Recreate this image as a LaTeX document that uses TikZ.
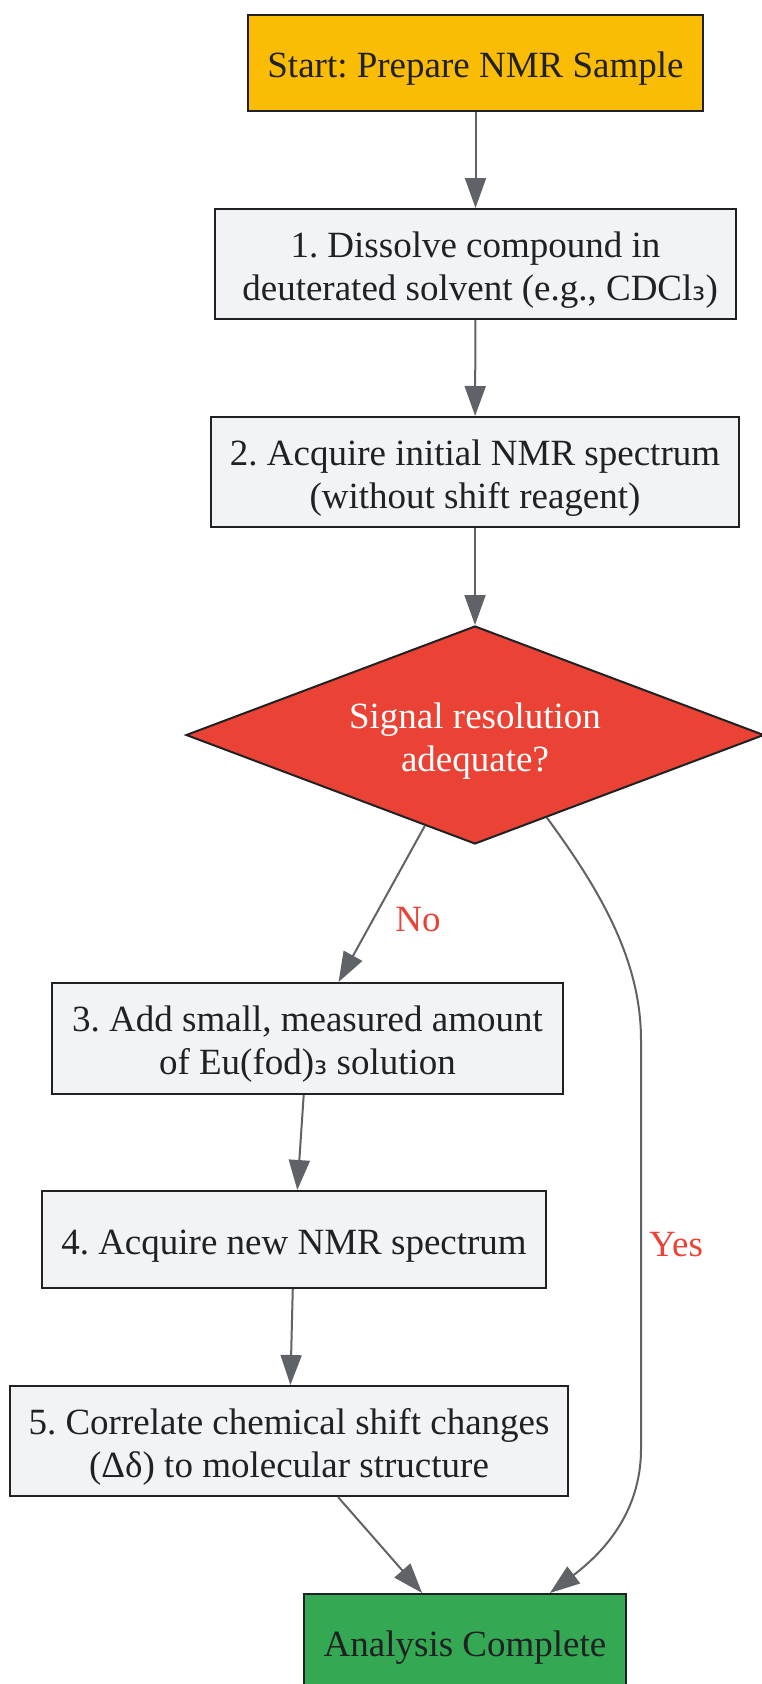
\documentclass[tikz,border=0pt]{standalone}
\usepackage{fontspec}
\setmainfont{Liberation Serif}
\newfontfamily\dvsans{DejaVu Sans}
\usetikzlibrary{shapes.geometric,arrows.meta,calc}
\frenchspacing
\definecolor{gyellow}{HTML}{FBBC05}
\definecolor{gred}{HTML}{EA4335}
\definecolor{ggreen}{HTML}{34A853}
\definecolor{boxfill}{HTML}{F1F3F4}
\definecolor{edgecol}{HTML}{5F6368}
\definecolor{textcol}{HTML}{202124}
\newcommand{\subthree}{{\dvsans\fontsize{33}{43}\selectfont ₃}}
\newcommand{\tx}[1]{\raisebox{-6pt}[\height][\depth]{\begin{tabular}{@{}c@{}}#1\end{tabular}}}
\begin{document}
\begin{tikzpicture}[x=1pt,y=-1pt,
  box/.style={draw=textcol, line width=2pt, fill=boxfill, text=textcol, align=center,
    inner sep=0pt, font=\fontsize{37}{43}\selectfont},
  decision/.style={shape=diamond, draw=textcol, line width=2pt, fill=gred, text=white,
    align=center, inner sep=0pt, aspect=2.65, font=\fontsize{37}{43}\selectfont},
  edge/.style={draw=edgecol, line width=2pt, -{Triangle[length=30pt,width=21pt]}},
  lbl/.style={text=gred, font=\fontsize{37}{43}\selectfont, inner sep=0pt}]
\useasboundingbox (0,0) rectangle (762,1684);
\node[box, fill=gyellow, minimum width=455pt, minimum height=96pt] (start) at (475.5,63) {\tx{Start: Prepare NMR Sample}};
\node[box, minimum width=521pt, minimum height=110pt] (b1) at (475.5,264) {\tx{1. Dissolve compound in\\ \ deuterated solvent (e.g., CDCl\subthree)}};
\node[box, minimum width=528pt, minimum height=110pt] (b2) at (475,472) {\tx{2. Acquire initial NMR spectrum\\(without shift reagent)}};
\node[decision, minimum width=578pt, minimum height=218pt] (d) at (475,735) {\tx{Signal resolution\\adequate?}};
\node[box, minimum width=511pt, minimum height=111pt] (b3) at (307.5,1038.5) {\tx{3. Add small, measured amount\\of Eu(fod)\subthree{} solution}};
\node[box, minimum width=504pt, minimum height=97pt] (b4) at (294,1239.5) {\tx{4. Acquire new NMR spectrum}};
\node[box, minimum width=558pt, minimum height=110pt] (b5) at (289,1441) {\tx{5. Correlate chemical shift changes\\(Δδ) to molecular structure}};
\node[box, fill=ggreen, minimum width=322pt, minimum height=96pt] (fin) at (465,1642) {\tx{Analysis Complete}};
\draw[edge] (start) -- (b1);
\draw[edge] (b1) -- (b2);
\draw[edge] (b2) -- (d);
\draw[edge] (d) -- (b3);
\draw[edge] (b3) -- (b4);
\draw[edge] (b4) -- (b5);
\draw[edge] (b5) -- (fin);
\draw[edge] (d.-49) .. controls (600,890) and (641,960) .. (641,1040) -- (641,1449)
  .. controls (641,1515) and (600,1555) .. (fin.30);
\node[lbl] (no) at (418,917) {\tx{No}};
\node[lbl] (yes) at (676,1242) {\tx{Yes}};
\end{tikzpicture}
\end{document}
